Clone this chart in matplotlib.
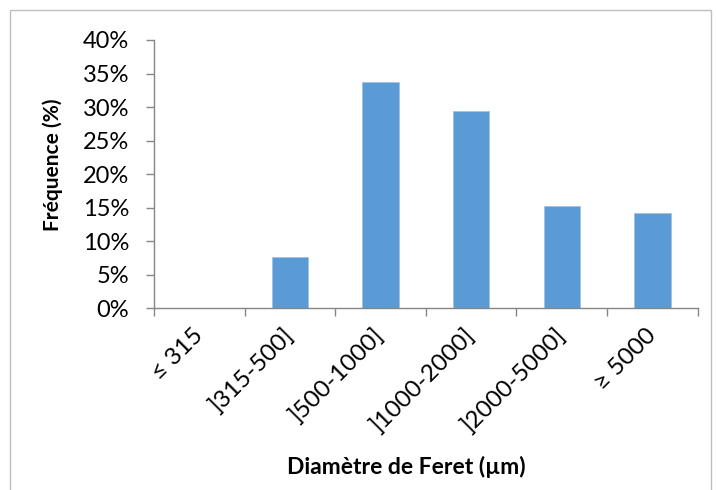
import matplotlib
matplotlib.use("Agg")
import matplotlib.pyplot as plt
from matplotlib.patches import Rectangle
from matplotlib.ticker import FixedLocator, PercentFormatter

plt.rcParams['font.family'] = ['Lato', 'DejaVu Sans']

categories = ["≤ 315", "]315-500]", "]500-1000]", "]1000-2000]", "]2000-5000]", "≥ 5000"]
frequences = [0.0, 7.6, 33.8, 29.4, 15.3, 14.2]

bar_color = "#5B9BD5"
axis_color = "#868686"

fig = plt.figure(figsize=(7.16, 4.9), dpi=100)
ax = fig.add_axes([0.2151, 0.3708, 0.7594, 0.5476])

x = list(range(len(categories)))
ax.bar(x, frequences, width=0.4, color=bar_color, edgecolor="#9DC3E6", linewidth=0.6)

ax.set_xlim(-0.5, len(categories) - 0.5)
ax.set_ylim(0, 40)
ax.set_yticks(range(0, 41, 5))
ax.yaxis.set_major_formatter(PercentFormatter(decimals=0))

# ticks at category boundaries, labels in the middle
ax.xaxis.set_major_locator(FixedLocator([i - 0.5 for i in range(len(categories) + 1)]))
ax.xaxis.set_major_formatter(plt.NullFormatter())
ax.set_xticks(x, minor=True)
ax.set_xticklabels(categories, minor=True, rotation=45, ha="right", va="center",
                   rotation_mode="anchor", fontsize=17.5)
ax.tick_params(axis="x", which="minor", length=0, pad=17)
ax.tick_params(axis="x", which="major", length=6, width=1, color=axis_color, direction="out")
ax.tick_params(axis="y", length=6, width=1, color=axis_color, labelsize=17, pad=12)

for side in ["top", "right"]:
    ax.spines[side].set_visible(False)
for side in ["left", "bottom"]:
    ax.spines[side].set_color(axis_color)
    ax.spines[side].set_linewidth(1)

fig.text(0.074, 0.664, "Fréquence (%)", rotation=90, ha="center", va="center",
         fontsize=15, fontweight="bold")
fig.text(0.568, 0.048, "Diamètre de Feret (µm)", ha="center", va="center",
         fontsize=16.5, fontweight="bold")

# chart border
fig.patches.append(Rectangle((10 / 716, -0.05), 701 / 716, 1.05 - 10 / 490,
                             transform=fig.transFigure, fill=False,
                             edgecolor="#BFBFBF", linewidth=1))

fig.savefig("out.png", dpi=100)
